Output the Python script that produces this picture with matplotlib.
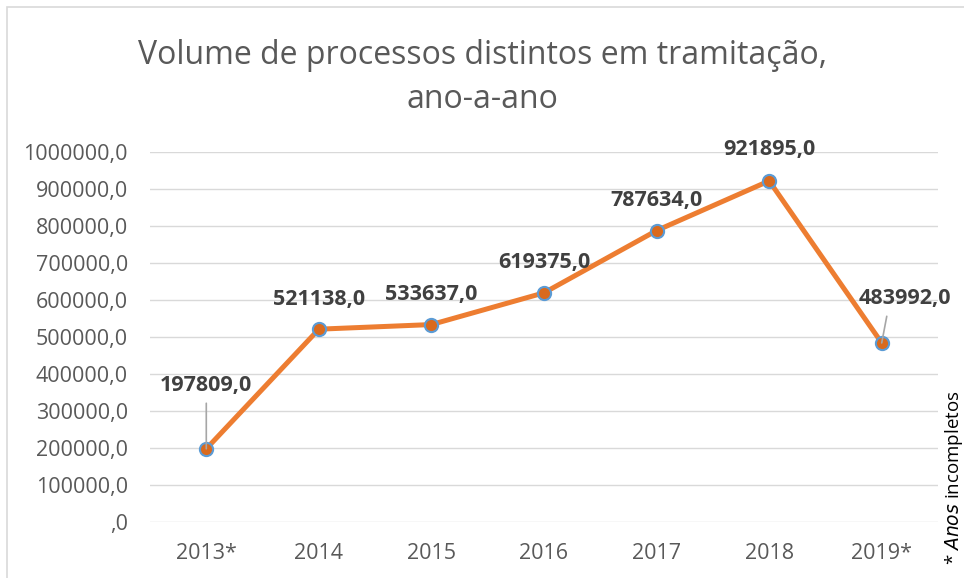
import matplotlib.pyplot as plt
import matplotlib.patches as mpatches

anos = ["2013*", "2014", "2015", "2016", "2017", "2018", "2019*"]
volume = [197809, 521138, 533637, 619375, 787634, 921895, 483992]
yticks = [0, 100000, 200000, 300000, 400000, 500000, 600000, 700000, 800000, 900000, 1000000]

plt.rcParams['font.family'] = ['Open Sans', 'DejaVu Sans']

fig = plt.figure(figsize=(9.64, 5.78), dpi=100)
ax = fig.add_axes([150 / 964, 1 - 522 / 578, 788 / 964, 370 / 578])

x = list(range(len(anos)))
ax.plot(x, volume, color='#ED7D31', lw=3.6, zorder=3,
        marker='o', markersize=9.5, markerfacecolor='#D96A1E',
        markeredgecolor='#5B9BD5', markeredgewidth=1.5)

ax.set_xlim(-0.5, len(anos) - 0.5)
ax.set_ylim(0, 1000000)
ax.set_xticks(x)
ax.set_xticklabels(anos)
ax.set_yticks(yticks)
ax.set_yticklabels([f"{v:.1f}".replace(".", ",") if v else ",0" for v in yticks])
ax.tick_params(length=0, labelsize=15.5, colors='#595959')
ax.tick_params(axis='y', pad=16)
ax.tick_params(axis='x', pad=15)
ax.grid(axis='y', color='#D9D9D9', lw=1)
ax.set_axisbelow(True)
for s in ax.spines.values():
    s.set_visible(False)

# data label offsets in pixels (dx, dy up); leader lines start at relpos x
px = 72 / 100
offsets = [(0, 63), (0, 30), (0, 30), (0, 30), (0, 30), (0, 31), (23, 44)]
leader_rel = [0.5, None, None, None, None, None, 0.32]
for i, v in enumerate(volume):
    dx, dy = offsets[i]
    lbl = f"{v:.1f}".replace(".", ",")
    kw = dict(xytext=(dx * px, dy * px), textcoords='offset points',
              ha='center', va='center', fontsize=15.5, fontweight='bold', color='#404040')
    if leader_rel[i] is not None:
        kw['arrowprops'] = dict(arrowstyle='-', color='#A6A6A6', lw=1.2,
                                shrinkA=3, shrinkB=0, relpos=(leader_rel[i], 0))
    ax.annotate(lbl, (i, v), **kw)

fig.text(0.5, 1 - 55 / 578, "Volume de processos distintos em tramitação,",
         ha='center', va='center', fontsize=23, color='#595959')
fig.text(0.5, 1 - 100 / 578, "ano-a-ano",
         ha='center', va='center', fontsize=23, color='#595959')

fig.text(954 / 964, 1 - 478 / 578, r"* $\it{Anos}$ incompletos", rotation=90,
         ha='center', va='center', fontsize=13.5, color='#000000')

# chart border (partially cropped)
fig.add_artist(mpatches.Rectangle((7 / 964, -0.1), 2, 1 - 7 / 578 + 0.1,
                                  transform=fig.transFigure, fill=False,
                                  edgecolor='#D9D9D9', lw=1.2))

fig.savefig("out.png", dpi=100)
